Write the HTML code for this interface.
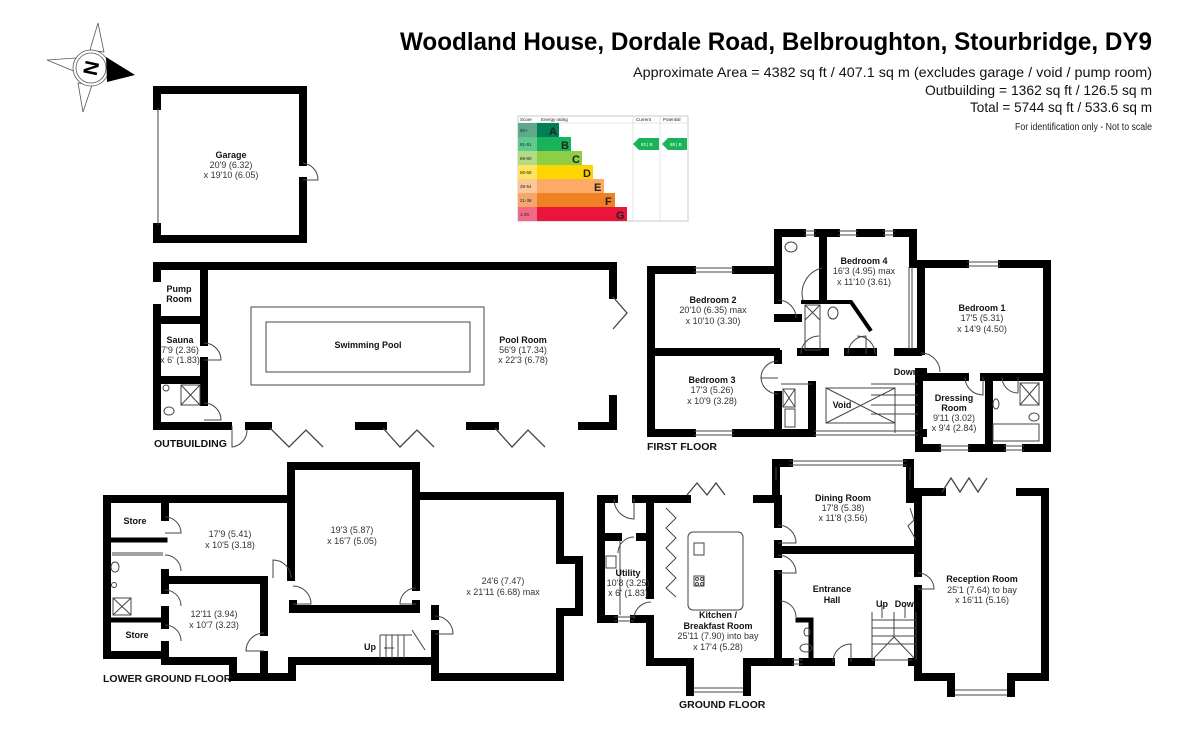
<!DOCTYPE html>
<html><head><meta charset="utf-8"><style>
html,body{margin:0;padding:0;background:#fff;}
svg{display:block;}
text{font-family:"Liberation Sans",Arial,sans-serif;fill:#222;}
.n{font-size:9px;font-weight:bold;text-anchor:middle;fill:#111;}
.d{font-size:9px;text-anchor:middle;fill:#333;}
.f{font-size:10.5px;font-weight:bold;fill:#111;}
</style></head><body>
<svg width="1200" height="747" viewBox="0 0 1200 747" xmlns="http://www.w3.org/2000/svg">
<rect width="1200" height="747" fill="#fff"/>

<!-- Header -->
<text x="400" y="50" font-size="25" font-weight="bold" textLength="752" lengthAdjust="spacingAndGlyphs" style="font-family:'Liberation Sans Narrow','Liberation Sans',sans-serif;fill:#000">Woodland House, Dordale Road, Belbroughton, Stourbridge, DY9</text>
<text x="1152" y="77" font-size="14" text-anchor="end" textLength="519" lengthAdjust="spacingAndGlyphs" style="font-family:'Liberation Sans Narrow','Liberation Sans',sans-serif;fill:#111">Approximate Area = 4382 sq ft / 407.1 sq m (excludes garage / void / pump room)</text>
<text x="1152" y="95" font-size="14" text-anchor="end" textLength="227" lengthAdjust="spacingAndGlyphs" style="font-family:'Liberation Sans Narrow','Liberation Sans',sans-serif;fill:#111">Outbuilding = 1362 sq ft / 126.5 sq m</text>
<text x="1152" y="112" font-size="14" text-anchor="end" textLength="182" lengthAdjust="spacingAndGlyphs" style="font-family:'Liberation Sans Narrow','Liberation Sans',sans-serif;fill:#111">Total = 5744 sq ft / 533.6 sq m</text>
<text x="1152" y="130" font-size="10" text-anchor="end" textLength="137" lengthAdjust="spacingAndGlyphs" style="font-family:'Liberation Sans Narrow','Liberation Sans',sans-serif;fill:#222">For identification only - Not to scale</text>

<!-- Compass -->
<g stroke="#555" stroke-width="0.8" fill="#fff">
<polygon points="98,23 104,52 90,50"/>
<polygon points="47,60 76,58 76,72"/>
<polygon points="83,112 78,83 92,85"/>
<circle cx="91" cy="68" r="18"/>
<circle cx="91" cy="68" r="15"/>
</g>
<polygon points="106,57 135,75 107,82" fill="#000"/>
<text x="91" y="75" font-size="20" font-weight="bold" text-anchor="middle" transform="rotate(-78 91 68)" style="fill:#000">N</text>

<!-- EPC -->
<g font-size="4.5" style="font-family:'Liberation Sans',sans-serif">
<rect x="518" y="116" width="170" height="105" fill="#fff" stroke="#bbb" stroke-width="0.8"/>
<line x1="633" y1="116" x2="633" y2="221" stroke="#ccc" stroke-width="0.6"/>
<line x1="660" y1="116" x2="660" y2="221" stroke="#ccc" stroke-width="0.6"/>
<line x1="518" y1="123" x2="688" y2="123" stroke="#ccc" stroke-width="0.6"/>
<text x="520" y="121" font-size="4.5">Score</text><text x="541" y="121" font-size="4.5">Energy rating</text>
<text x="636" y="121" font-size="4.5">Current</text><text x="663" y="121" font-size="4.5">Potential</text>
<rect x="518" y="123" width="19" height="14" fill="#5fa88a"/><rect x="537" y="123" width="22" height="14" fill="#008054"/>
<rect x="518" y="137" width="19" height="14" fill="#5fca8e"/><rect x="537" y="137" width="34" height="14" fill="#19b459"/>
<rect x="518" y="151" width="19" height="14" fill="#b1dc85"/><rect x="537" y="151" width="45" height="14" fill="#8dce46"/>
<rect x="518" y="165" width="19" height="14" fill="#ffe45c"/><rect x="537" y="165" width="56" height="14" fill="#ffd500"/>
<rect x="518" y="179" width="19" height="14" fill="#fdc79a"/><rect x="537" y="179" width="67" height="14" fill="#fcaa65"/>
<rect x="518" y="193" width="19" height="14" fill="#f4a66c"/><rect x="537" y="193" width="78" height="14" fill="#ef8023"/>
<rect x="518" y="207" width="19" height="14" fill="#f06a85"/><rect x="537" y="207" width="90" height="14" fill="#e9153b"/>
<text x="520" y="132">92+</text><text x="520" y="146">81-91</text><text x="520" y="160">69-80</text><text x="520" y="174">55-68</text><text x="520" y="188">39-54</text><text x="520" y="202">21-38</text><text x="520" y="216">1-20</text>
<g font-size="11" font-weight="bold" style="fill:#111">
<text x="549" y="135">A</text><text x="561" y="149">B</text><text x="572" y="163">C</text><text x="583" y="177">D</text><text x="594" y="191">E</text><text x="605" y="205">F</text><text x="616" y="219">G</text></g>
<polygon points="633,144 639,138 659,138 659,150 639,150" fill="#19b459"/>
<polygon points="662,144 668,138 687,138 687,150 668,150" fill="#19b459"/>
<text x="641" y="146" style="fill:#fff">83 | B</text><text x="670" y="146" style="fill:#fff">88 | B</text>
</g>

<!-- WALLS -->
<g stroke="#000" stroke-width="8" fill="none" stroke-linecap="square" stroke-linejoin="miter">
<path d="M157,106 L157,90 L303,90 L303,162 M303,181 L303,239 L157,239 L157,227"/>
<path d="M157,278 L157,266 L613,266 L613,295 M613,399 L613,426 L582,426 M157,308 L157,426 L228,426 M249,426 L268,426 M359,426 L383,426 M470,426 L495,426"/>
<path d="M157,320 L203,320 M204,266 L204,342 M204,361 L204,402 M157,380 L203,380"/>
<path d="M651,270 L651,433 L692,433 M736,433 L812,433 L812,385 M920,433 L923,433"/>
<path d="M651,270 L692,270 M736,270 L778,270 L778,233 L802,233 M818,233 L836,233 M860,233 L881,233 M897,233 L913,233 L913,264 L965,264 M1002,264 L1047,264 L1047,448 L1026,448 M1002,448 L972,448 M937,448 L919,448 L919,372 L923,372 M919,377 L965,377 M984,377 L1047,377 M989,377 L989,448"/>
<path d="M921,264 L921,351 M823,233 L823,300 M778,233 L778,300 M778,318 L798,318"/>
<path d="M651,352 L776,352 M801,352 L825,352 M848,352 L873,352 M898,352 L918,352 M778,354 L778,360 M778,395 L778,433"/>
<path d="M601,499 L601,619 L614,619 M634,619 L650,619 L650,662 L690,662 L690,692 M601,499 L614,499 M636,499 L687,499 M650,499 L650,595 M601,537 L618,537 M640,537 L650,537"/>
<path d="M757,499 L776,499 L776,463 L789,463 M907,463 L910,463 L910,499 M910,492 L942,492 M1020,492 L1045,492 L1045,677 L1011,677 L1011,693 M918,492 L918,573 M918,589 L918,677 L951,677 L951,693"/>
<path d="M778,550 L918,550 M778,499 L778,524 M778,544 L778,554 M778,574 L778,662 M747,692 L747,662 L790,662 M803,662 L831,662 M852,662 L871,662 M912,662 L918,662"/>
<path d="M811,620 L811,660 M798,620 L811,620" stroke-width="5"/>
<path d="M107,499 L291,499 L291,466 L416,466 L416,587 M416,604 L416,609 L293,609 L293,604 M291,499 L291,577"/>
<path d="M416,496 L560,496 L560,560 L579,560 L579,612 L560,612 L560,677 L435,677 L435,634 M435,609 L435,616"/>
<path d="M107,499 L107,655 L165,655 L165,661 L233,661 L233,677 L292,677 L292,661 L435,661"/>
<path d="M264,580 L264,632 M264,655 L264,677 M165,580 L262,580 M165,503 L165,517 M165,573 L165,590 M165,610 L165,625 M165,645 L165,655"/>
<path d="M107,540 L165,540 M107,620 L165,620" stroke-width="5"/>
</g>

<g stroke="#444" stroke-width="1" fill="none">
<line x1="158" y1="108" x2="158" y2="225"/>
<path d="M303,163 A17,17 0 0 1 318,180 L303,180"/>
<path d="M204,343 A17,17 0 0 1 221,360 L204,360"/>
<path d="M204,403 A17,17 0 0 1 221,420 L204,420"/>
<path d="M232,426 L232,447 A17,17 0 0 0 247,430"/>
<rect x="251" y="307" width="233" height="78"/>
<rect x="266" y="322" width="204" height="50"/>
<rect x="181" y="385" width="19" height="20"/><path d="M181,385 L200,405 M200,385 L181,405"/>
<circle cx="166" cy="388" r="3"/><ellipse cx="169" cy="411" rx="5" ry="4"/>
<path d="M270,428 L289,447 L306,430 L323,447" stroke-width="1.3"/>
<path d="M383,428 L400,447 L417,430 L434,447" stroke-width="1.3"/>
<path d="M495,428 L512,447 L528,430 L545,447" stroke-width="1.3"/>
<path d="M613,297 L627,313 L613,329" stroke-width="1.3"/>
<path d="M687,495 L697,483 L707,495 L716,483 L725,495" stroke-width="1.3"/>
<path d="M942,492 L951,478 L960,492 L969,478 L978,492 L987,478" stroke-width="1.3"/>
<path d="M666,508 L676,518 L666,528 L676,538 L666,548 L676,558 L666,568 L676,578 L666,588 L676,597"/>
<path d="M694,268 L734,268 M694,272 L734,272 M694,431 L734,431 M694,435 L734,435 M814,431 L918,431 M814,435 L918,435 M804,231 L816,231 M804,235 L816,235 M838,231 L858,231 M838,235 L858,235 M883,231 L895,231 M883,235 L895,235 M967,262 L1000,262 M967,266 L1000,266 M939,446 L970,446 M939,450 L970,450 M1004,446 L1024,446 M1004,450 L1024,450"/>
<path d="M778,300 A18,18 0 0 1 796,318"/>
<path d="M778,361 A17,17 0 0 0 761,378 L778,378 M778,394 A17,17 0 0 1 761,377"/>
<path d="M801,354 A18,18 0 0 1 819,336"/>
<path d="M848,354 A18,18 0 0 1 866,336 L866,354 M875,354 A18,18 0 0 0 857,336"/>
<path d="M921,353 A19,19 0 0 1 940,372"/>
<path d="M965,377 A18,18 0 0 0 983,395 L983,377"/>
<path d="M1002,377 A16,16 0 0 0 1018,393 M1018,377 L1018,393"/>
<path d="M909,267 L909,349 M912,267 L912,349"/>
<path d="M801,302 L851,302 L871,331" stroke="#000" stroke-width="4"/>
<rect x="805" y="305" width="15" height="45"/><path d="M805,305 L820,320 M820,305 L805,320"/>
<ellipse cx="833" cy="313" rx="5" ry="6"/><ellipse cx="791" cy="247" rx="6" ry="5"/>
<path d="M803,300 A26,26 0 0 1 822,268"/>
<rect x="826" y="388" width="69" height="35"/><path d="M826,388 L895,423 M895,388 L826,423"/>
<path d="M871,384 L918,384 M871,395 L918,395 M871,405 L918,405 M871,414 L918,414 M895,395 L895,433 M781,384 L812,384"/>
<rect x="1020" y="383" width="19" height="22"/><path d="M1020,383 L1039,405 M1039,383 L1020,405"/>
<rect x="993" y="424" width="46" height="17"/>
<ellipse cx="996" cy="404" rx="3" ry="5"/><ellipse cx="1034" cy="417" rx="5" ry="4"/>
<rect x="783" y="389" width="12" height="18"/><path d="M783,389 L795,407 M795,389 L783,407"/>
<rect x="785" y="409" width="10" height="18"/>
<path d="M693,688 L743,688 M693,692 L743,692 M955,690 L1007,690 M955,695 L1007,695 M792,660 L803,660 M792,664 L803,664 M614,617 L634,617 M614,621 L634,621 M872,660 L912,660 M789,461 L907,461 M789,465 L907,465 M776,467 L776,480 M910,467 L910,480"/>
<path d="M778,525 A18,18 0 0 1 796,543 L778,543"/>
<path d="M778,555 A18,18 0 0 1 796,573 L778,573"/>
<path d="M918,573 A16,16 0 0 1 934,589 L918,589"/>
<path d="M833,662 A18,18 0 0 1 851,644 L851,662"/>
<path d="M780,601 A16,16 0 0 1 796,617"/>
<path d="M614,499 A20,20 0 0 0 634,519 L634,499"/>
<path d="M634,537 A16,16 0 0 0 618,553"/>
<path d="M634,619 A17,17 0 0 1 651,602"/>
<path d="M910,508 L914,520 L908,526 L916,540"/>
<rect x="688" y="532" width="55" height="78" rx="5"/>
<rect x="694" y="543" width="10" height="12"/><rect x="694" y="576" width="10" height="10"/>
<circle cx="697" cy="579" r="1.5"/><circle cx="702" cy="579" r="1.5"/><circle cx="697" cy="584" r="1.5"/><circle cx="702" cy="584" r="1.5"/>
<rect x="606" y="556" width="10" height="12"/>
<path d="M620,540 L620,615"/>
<ellipse cx="806" cy="648" rx="6" ry="4"/><ellipse cx="807" cy="632" rx="3" ry="4"/>
<path d="M872,612 L872,660 M916,612 L916,660 M872,620 L916,620 M872,628 L916,628 M872,636 L916,636 M872,644 L916,644 M894,612 L894,637 M894,637 L874,658 M894,637 L914,658"/>
<path d="M882,605 L882,618 M905,605 L905,618"/>
<path d="M165,517 A16,16 0 0 1 181,533 L165,533"/>
<path d="M165,555 A16,16 0 0 1 181,571 M165,590 A16,16 0 0 1 181,606 M165,625 A16,16 0 0 1 181,641"/>
<path d="M264,633 A18,18 0 0 0 246,651 L264,651"/>
<path d="M291,578 A18,18 0 0 0 273,560 L273,578"/>
<path d="M293,586 A18,18 0 0 1 311,604 L293,604"/>
<path d="M416,588 A16,16 0 0 0 400,604 L416,604"/>
<path d="M435,616 A18,18 0 0 1 453,634 L435,634"/>
<path d="M112,553 L163,553 M112,555 L163,555"/>
<rect x="113" y="598" width="18" height="17"/><path d="M113,598 L131,615 M131,598 L113,615"/>
<ellipse cx="115" cy="567" rx="4" ry="5"/><circle cx="114" cy="585" r="2.5"/>
<path d="M380,635 L380,658 M386,635 L386,658 M392,635 L392,658 M398,635 L398,658 M404,635 L404,658 M380,635 L412,635 M412,630 L425,650"/>
<path d="M384,648 L394,648"/>
</g>

<text class="n" x="231" y="158">Garage</text><text class="d" x="231" y="168">20'9 (6.32)</text><text class="d" x="231" y="178">x 19'10 (6.05)</text>
<text class="n" x="179" y="292">Pump</text><text class="n" x="179" y="302">Room</text>
<text class="n" x="180" y="343">Sauna</text><text class="d" x="180" y="353">7'9 (2.36)</text><text class="d" x="180" y="363">x 6' (1.83)</text>
<text class="n" x="368" y="348">Swimming Pool</text>
<text class="n" x="523" y="343">Pool Room</text><text class="d" x="523" y="353">56'9 (17.34)</text><text class="d" x="523" y="363">x 22'3 (6.78)</text>
<text class="f" x="154" y="447">OUTBUILDING</text>

<text class="n" x="713" y="303">Bedroom 2</text><text class="d" x="713" y="313">20'10 (6.35) max</text><text class="d" x="713" y="324">x 10'10 (3.30)</text>
<text class="n" x="864" y="264">Bedroom 4</text><text class="d" x="864" y="274">16'3 (4.95) max</text><text class="d" x="864" y="285">x 11'10 (3.61)</text>
<text class="n" x="982" y="311">Bedroom 1</text><text class="d" x="982" y="321">17'5 (5.31)</text><text class="d" x="982" y="332">x 14'9 (4.50)</text>
<text class="n" x="712" y="383">Bedroom 3</text><text class="d" x="712" y="393">17'3 (5.26)</text><text class="d" x="712" y="404">x 10'9 (3.28)</text>
<text class="n" x="842" y="408">Void</text>
<text class="n" x="906" y="375" font-size="8">Down</text>
<text class="n" x="954" y="401">Dressing</text><text class="n" x="954" y="411">Room</text><text class="d" x="954" y="421">9'11 (3.02)</text><text class="d" x="954" y="431">x 9'4 (2.84)</text>
<text class="f" x="647" y="450">FIRST FLOOR</text>

<text class="n" x="135" y="524">Store</text><text class="n" x="137" y="638">Store</text>
<text class="d" x="230" y="537">17'9 (5.41)</text><text class="d" x="230" y="548">x 10'5 (3.18)</text>
<text class="d" x="352" y="533">19'3 (5.87)</text><text class="d" x="352" y="544">x 16'7 (5.05)</text>
<text class="d" x="503" y="584">24'6 (7.47)</text><text class="d" x="503" y="595">x 21'11 (6.68) max</text>
<text class="d" x="214" y="617">12'11 (3.94)</text><text class="d" x="214" y="628">x 10'7 (3.23)</text>
<text class="n" x="370" y="650" font-size="8">Up</text>
<text class="f" x="103" y="682">LOWER GROUND FLOOR</text>

<text class="n" x="628" y="576">Utility</text><text class="d" x="628" y="586">10'8 (3.25)</text><text class="d" x="628" y="596">x 6' (1.83)</text>
<text class="n" x="718" y="618">Kitchen /</text><text class="n" x="718" y="629">Breakfast Room</text><text class="d" x="718" y="639">25'11 (7.90) into bay</text><text class="d" x="718" y="650">x 17'4 (5.28)</text>
<text class="n" x="843" y="501">Dining Room</text><text class="d" x="843" y="511">17'8 (5.38)</text><text class="d" x="843" y="521">x 11'8 (3.56)</text>
<text class="n" x="832" y="592">Entrance</text><text class="n" x="832" y="603">Hall</text>
<text class="n" x="882" y="607" font-size="8">Up</text><text class="n" x="907" y="607" font-size="8">Down</text>
<text class="n" x="982" y="582">Reception Room</text><text class="d" x="982" y="593">25'1 (7.64) to bay</text><text class="d" x="982" y="603">x 16'11 (5.16)</text>
<text class="f" x="679" y="708">GROUND FLOOR</text>
</svg>
</body></html>
